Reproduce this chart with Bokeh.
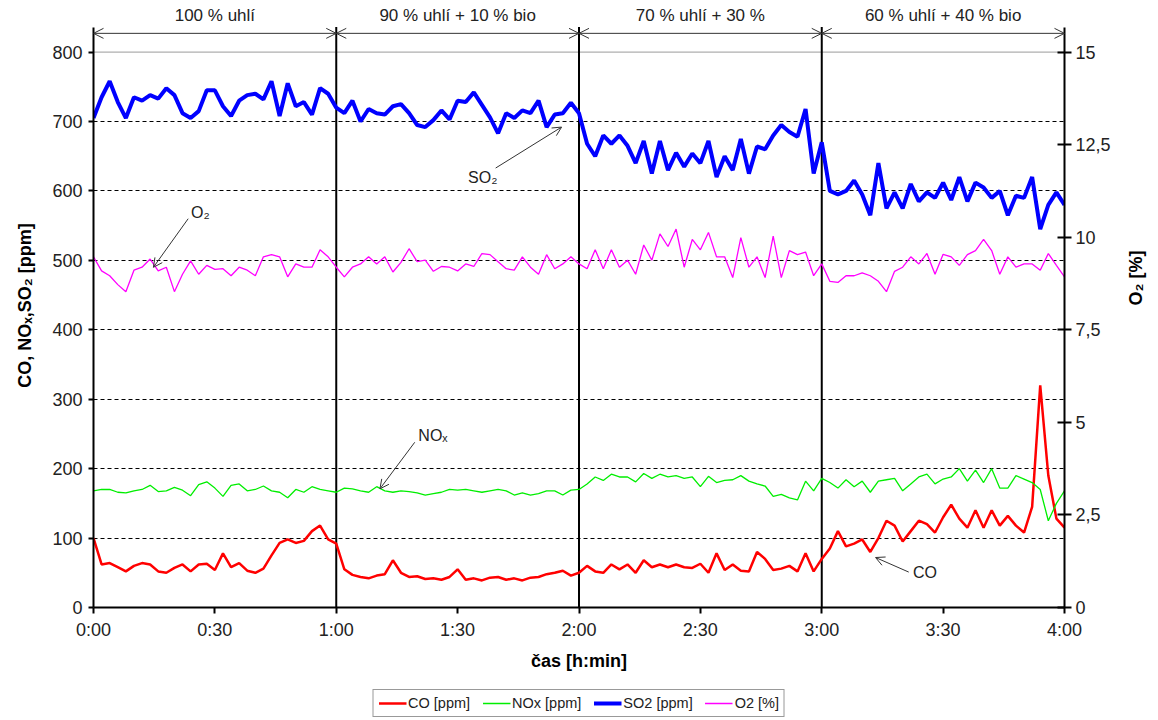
import math
from bokeh.plotting import figure
from bokeh.layouts import column
from bokeh.models import (LinearAxis, Range1d, FixedTicker, Arrow, OpenHead,
                          Label, Legend, LegendItem)
from bokeh.embed import file_html
from bokeh.resources import INLINE

# --- measurements, sampled every 2 minutes over 4 hours ---
minutes = list(range(0, 241, 2))

co_ppm = [
    100, 62, 64, 58, 52, 60, 64, 62, 52, 50, 57, 62, 52, 62, 63, 54, 78, 58, 64, 53,
    50, 56, 75, 93, 98, 93, 96, 110, 118, 98, 92,
    55, 47, 44, 42, 46, 48, 68, 50, 44, 45, 41, 42, 40, 44, 55, 40, 42, 39, 43, 44,
    40, 42, 39, 43, 44, 48, 50, 53, 46, 50,
    60, 52, 50, 62, 55, 62, 50, 68, 58, 62, 58, 62, 58, 57, 63, 50, 78, 54, 62, 53,
    52, 80, 70, 54, 56, 60, 52, 78, 52, 70,
    85, 110, 88, 92, 98, 80, 100, 125, 118, 95, 110, 125, 120, 108, 130, 148, 128, 115, 140, 115,
    140, 118, 132, 118, 108, 145, 320, 190, 128, 115,
]

nox_ppm = [
    168, 170, 170, 166, 165, 168, 170, 176, 167, 168, 173, 169, 161, 177, 181, 172, 160, 176, 178, 168,
    170, 175, 168, 166, 158, 170, 166, 174, 170, 168, 166,
    172, 171, 168, 166, 174, 168, 166, 168, 167, 165, 162, 164, 166, 170, 169, 170, 168, 166, 168, 170,
    168, 162, 165, 162, 164, 168, 168, 162, 169, 170,
    178, 188, 183, 192, 188, 188, 181, 193, 186, 192, 188, 190, 186, 188, 174, 189, 180, 183, 184, 190,
    182, 178, 175, 160, 163, 158, 155, 182, 168, 186,
    180, 172, 184, 174, 182, 166, 182, 184, 186, 168, 178, 188, 192, 178, 185, 188, 200, 182, 198, 180,
    200, 172, 172, 190, 185, 180, 170, 125, 150, 168,
]

so2_ppm = [
    705, 735, 758, 728, 705, 735, 730, 738, 733, 748, 738, 712, 705, 715, 745, 745, 722, 708, 730, 738,
    740, 732, 758, 708, 755, 722, 728, 710, 748, 740, 720,
    712, 730, 700, 718, 712, 710, 722, 725, 712, 695, 692, 702, 716, 703, 730, 728, 742, 724, 706, 683,
    712, 705, 716, 712, 730, 692, 710, 712, 727, 712,
    668, 650, 680, 668, 680, 665, 640, 672, 625, 672, 630, 655, 635, 654, 640, 672, 620, 650, 630, 675,
    625, 664, 660, 680, 695, 685, 678, 718, 625, 670,
    600, 595, 600, 615, 595, 565, 640, 575, 598, 575, 610, 585, 598, 590, 612, 587, 620, 585, 612, 605,
    590, 600, 565, 593, 590, 620, 545, 580, 598, 580,
]

o2_pct = [
    9.47, 9.09, 8.96, 8.72, 8.53, 9.11, 9.19, 9.41, 9.09, 9.19, 8.53, 9.00, 9.36, 9.00, 9.24, 9.13,
    9.15, 8.96, 9.19, 9.11, 8.96, 9.47, 9.53, 9.47, 8.93, 9.28, 9.19, 9.19, 9.66, 9.47, 9.19,
    8.93, 9.19, 9.28, 9.47, 9.28, 9.47, 9.06, 9.32, 9.69, 9.34, 9.38, 9.08, 9.21, 9.19, 9.09, 9.28,
    9.21, 9.56, 9.53, 9.34, 9.15, 9.11, 9.47, 9.19, 9.00, 9.53, 9.15, 9.28, 9.47, 9.28,
    9.15, 9.66, 9.15, 9.66, 9.19, 9.38, 9.00, 9.79, 9.38, 10.09, 9.75, 10.22, 9.19, 9.94, 9.66, 10.13,
    9.47, 9.47, 8.91, 9.99, 9.19, 9.47, 8.91, 10.03, 8.91, 9.64, 9.53, 9.60, 8.96, 9.28,
    8.81, 8.78, 8.96, 8.96, 9.04, 8.96, 8.81, 8.53, 9.08, 9.19, 9.47, 9.28, 9.56, 9.00, 9.54, 9.47,
    9.24, 9.53, 9.64, 9.94, 9.64, 9.00, 9.47, 9.19, 9.28, 9.28, 9.11, 9.56, 9.24, 8.93,
]

# fuel blend phases (start/end minute) and their captions
phase_bounds = [0, 60, 120, 180, 240]
phase_labels = ["100 % uhlí", "90 % uhlí + 10 % bio", "70 % uhlí + 30 %", "60 % uhlí + 40 % bio"]

# axis ticks
left_ticks = [0, 100, 200, 300, 400, 500, 600, 700, 800]
right_ticks = [0, 2.5, 5, 7.5, 10, 12.5, 15]
right_tick_labels = ["0", "2,5", "5", "7,5", "10", "12,5", "15"]
time_ticks = [0, 30, 60, 90, 120, 150, 180, 210, 240]
time_tick_labels = ["0:00", "0:30", "1:00", "1:30", "2:00", "2:30", "3:00", "3:30", "4:00"]

FONT = "Liberation Sans"
TEXT_COLOR = "#222222"
Y_TOP = 870          # frame top, leaves room for the phase captions
Y_AXIS_TOP = 836     # where the vertical axis lines stop
O2_SCALE = 15 / 800

p = figure(width=1158, height=686, output_backend="svg", toolbar_location=None,
           x_range=Range1d(0, 240), y_range=Range1d(0, Y_TOP),
           min_border_left=93, min_border_right=92, min_border_top=3, min_border_bottom=79)
p.extra_y_ranges = {"o2": Range1d(0, Y_TOP * O2_SCALE)}
p.outline_line_color = None
p.background_fill_color = "white"
p.border_fill_color = "white"

# horizontal grid
p.xgrid.visible = False
p.ygrid.ticker = FixedTicker(ticks=left_ticks[1:-1])
p.ygrid.grid_line_color = "black"
p.ygrid.grid_line_dash = "4 3"
p.ygrid.grid_line_width = 1
p.segment(x0=[0], y0=[800], x1=[240], y1=[800], line_color="#9a9a9a", line_width=1)

# left axis
lax = p.left[0]
lax.ticker = FixedTicker(ticks=left_ticks)
lax.bounds = (0, Y_AXIS_TOP)
lax.axis_label = "CO, NOₓ,SO₂ [ppm]"
# x axis
bax = p.below[0]
bax.ticker = FixedTicker(ticks=time_ticks)
bax.major_label_overrides = {t: s for t, s in zip(time_ticks, time_tick_labels)}
bax.axis_label = "čas [h:min]"

# right axis for oxygen
rax = LinearAxis(y_range_name="o2", ticker=FixedTicker(ticks=right_ticks),
                 bounds=(0, Y_AXIS_TOP * O2_SCALE),
                 major_label_overrides={t: s for t, s in zip(right_ticks, right_tick_labels)},
                 axis_label="O₂ [%]")
p.add_layout(rax, "right")

for ax in (lax, bax, rax):
    ax.axis_line_color = "black"
    ax.axis_line_width = 2
    ax.major_tick_line_color = "black"
    ax.major_tick_line_width = 2
    ax.minor_tick_line_color = None
    ax.major_label_text_font = FONT
    ax.major_label_text_font_size = "18px"
    ax.major_label_text_color = TEXT_COLOR
    ax.axis_label_text_font = FONT
    ax.axis_label_text_font_size = "18px"
    ax.axis_label_text_font_style = "bold"
    ax.axis_label_text_color = "black"

lax.major_tick_out = 5
lax.major_tick_in = 0
lax.major_label_standoff = 6
lax.axis_label_standoff = 14
bax.major_tick_out = 6
bax.major_tick_in = 0
bax.major_label_standoff = 6
bax.axis_label_standoff = 8
rax.major_tick_out = 7
rax.major_tick_in = 7
rax.major_label_standoff = 4
rax.axis_label_standoff = 22
rax.axis_label_orientation = math.pi / 2

# phase boundaries
p.segment(x0=phase_bounds[1:-1], y0=[0] * 3, x1=phase_bounds[1:-1], y1=[Y_AXIS_TOP] * 3,
          line_color="black", line_width=2)

# series
r_co = p.line(minutes, co_ppm, line_color="#ff0000", line_width=2.5)
r_nox = p.line(minutes, nox_ppm, line_color="#00ee00", line_width=1.3)
r_so2 = p.line(minutes, so2_ppm, line_color="#0000ff", line_width=4)
r_o2 = p.line(minutes, o2_pct, line_color="#ff00ff", line_width=1.3, y_range_name="o2")

# phase dimension arrows and captions
for a, b, txt in zip(phase_bounds[:-1], phase_bounds[1:], phase_labels):
    p.add_layout(Arrow(start=OpenHead(size=10, line_width=1, line_color="#333333"),
                       end=OpenHead(size=10, line_width=1, line_color="#333333"),
                       x_start=a, y_start=827, x_end=b, y_end=827,
                       line_color="#333333", line_width=1))
    p.add_layout(Label(x=(a + b) / 2, y=853, text=txt, text_align="center",
                       text_baseline="middle", text_font=FONT, text_font_size="17px",
                       text_color=TEXT_COLOR))

# series callouts: (text, text x, text y, arrow tail x, tail y, head x, head y)
callouts = [
    ("O₂", 26.4, 569, 23.4, 560, 14.8, 490),
    ("SO₂", 96.2, 620, 99.4, 633, 115.7, 692),
    ("NOₓ", 83.9, 248, 79.4, 238, 70.8, 171),
    ("CO", 205.5, 50, 201.5, 51, 193.3, 72),
]
for txt, tx, ty, xs, ys, xe, ye in callouts:
    p.add_layout(Arrow(end=OpenHead(size=9, line_width=1, line_color="#333333"),
                       x_start=xs, y_start=ys, x_end=xe, y_end=ye,
                       line_color="#333333", line_width=1))
    p.add_layout(Label(x=tx, y=ty, text=txt, text_align="center", text_baseline="middle",
                       text_font=FONT, text_font_size="16px", text_color=TEXT_COLOR))

# legend strip under the chart; the proxy lines sit outside its visible range
leg = figure(width=1158, height=34, output_backend="svg", toolbar_location=None,
             x_range=Range1d(0, 1), y_range=Range1d(0, 1),
             min_border=0, outline_line_color=None)
leg.axis.visible = False
leg.grid.visible = False
styles = [("CO [ppm]", "#ff0000", 2.5), ("NOx [ppm]", "#00ee00", 1.3),
          ("SO2 [ppm]", "#0000ff", 4), ("O2 [%]", "#ff00ff", 1.3)]
items = []
for name, col, w in styles:
    r = leg.line([5, 6], [5, 5], line_color=col, line_width=w)
    items.append(LegendItem(label=name, renderers=[r]))
legend = Legend(items=items, orientation="horizontal", location="center",
                label_text_font=FONT, label_text_font_size="14.5px",
                label_text_color=TEXT_COLOR,
                glyph_width=28, glyph_height=14, label_standoff=2, spacing=12,
                padding=5, margin=0,
                border_line_color="#333333", border_line_width=1.5,
                background_fill_color="white")
leg.add_layout(legend)

page = column(p, leg, spacing=0)
open("out.html", "w").write(file_html(page, INLINE))
